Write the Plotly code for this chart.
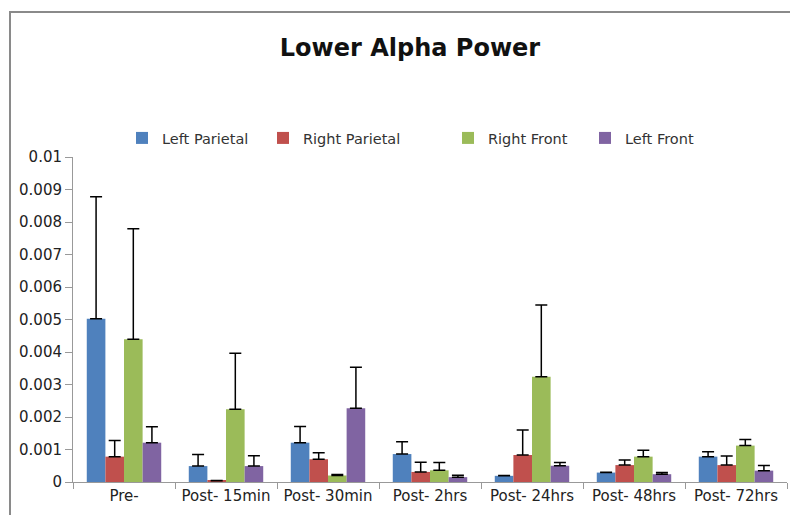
import plotly.graph_objects as go

categories = ["Pre-", "Post- 15min", "Post- 30min", "Post- 2hrs", "Post- 24hrs", "Post- 48hrs", "Post- 72hrs"]

left_parietal = [0.00502, 0.00049, 0.00121, 0.00086, 0.00019, 0.00029, 0.00078]
left_parietal_err = [0.00376, 0.00036, 0.00050, 0.00038, 0.00001, 0.00001, 0.00015]

right_parietal = [0.00078, 0.00004, 0.00070, 0.00031, 0.00083, 0.00052, 0.00052]
right_parietal_err = [0.00050, 0.00001, 0.00020, 0.00030, 0.00077, 0.00016, 0.00028]

right_front = [0.00439, 0.00224, 0.00020, 0.00036, 0.00324, 0.00078, 0.00112]
right_front_err = [0.00340, 0.00172, 0.00003, 0.00024, 0.00221, 0.00020, 0.00019]

left_front = [0.00121, 0.00049, 0.00227, 0.00015, 0.00050, 0.00024, 0.00035]
left_front_err = [0.00049, 0.00032, 0.00126, 0.00006, 0.00010, 0.00005, 0.00016]

y_tick_vals = [0, 0.001, 0.002, 0.003, 0.004, 0.005, 0.006, 0.007, 0.008, 0.009, 0.01]
y_tick_labels = ["0", "0.001", "0.002", "0.003", "0.004", "0.005", "0.006", "0.007", "0.008", "0.009", "0.01"]

series = [
    ("Left Parietal", left_parietal, left_parietal_err, "#4F81BD"),
    ("Right Parietal", right_parietal, right_parietal_err, "#C0504D"),
    ("Right Front", right_front, right_front_err, "#9BBB59"),
    ("Left Front", left_front, left_front_err, "#8064A2"),
]

# page body has an 8px margin, so figure coordinates are shifted by 8px
OFF = 8
L, R, T, B = 73 - OFF, 19, 157 - OFF, 41
W, H = 798, 515
pw, ph = W - L - R, H - T - B

legend_names = ["legend", "legend2", "legend3", "legend4"]
legend_text_x = [162, 303, 488, 625]  # screen px where legend text starts

FONT = "'DejaVu Sans', sans-serif"

fig = go.Figure()
for (name, vals, errs, color), lg in zip(series, legend_names):
    fig.add_trace(go.Bar(
        x=categories, y=vals, name=name, legend=lg,
        marker=dict(color=color, line=dict(width=0)),
        error_y=dict(type="data", array=errs, symmetric=False, arrayminus=[0]*len(errs),
                     color="black", thickness=1.5, width=6),
    ))

legends = {}
for lg, tx in zip(legend_names, legend_text_x):
    legends[lg] = dict(
        orientation="h", x=(tx - 40 - OFF - L) / pw, xanchor="left",
        y=1 + (157 - 138) / ph, yanchor="middle",
        font=dict(family=FONT, size=14.5, color="#333333"),
        itemwidth=30, bgcolor="rgba(0,0,0,0)",
    )

fig.update_layout(
    width=W, height=H,
    margin=dict(l=L, r=R, t=T, b=B, pad=0, autoexpand=False),
    paper_bgcolor="white", plot_bgcolor="white",
    font=dict(family=FONT, color="#333333", size=15),
    title=dict(text="<b>Lower Alpha Power</b>", x=(410 - OFF) / W, xanchor="center",
               y=1 - (48 - OFF) / H, yanchor="middle",
               font=dict(family=FONT, size=24, color="#111111")),
    barmode="group", bargap=0.27, bargroupgap=0,
    showlegend=True,
    xaxis=dict(showline=True, linecolor="#999999", linewidth=1, ticks="outside", tickson="boundaries",
               ticklen=6, tickcolor="#999999", tickfont=dict(size=15, color="#222222"), automargin=False),
    yaxis=dict(range=[0, 0.01], tickvals=y_tick_vals, ticktext=y_tick_labels, showline=True,
               linecolor="#999999", linewidth=1, ticks="outside", ticklen=7, tickcolor="#999999",
               showgrid=False, zeroline=False, tickfont=dict(size=15, color="#222222"), automargin=False),
    shapes=[dict(type="rect", xref="paper", yref="paper",
                 x0=(10 - OFF - L) / pw, x1=(815 - OFF - L) / pw,
                 y0=-(535 - (H - B + OFF)) / ph, y1=1 + (157 - 12) / ph,
                 line=dict(color="#8a8a8a", width=2))],
    **legends,
)

fig.write_html("out.html")
